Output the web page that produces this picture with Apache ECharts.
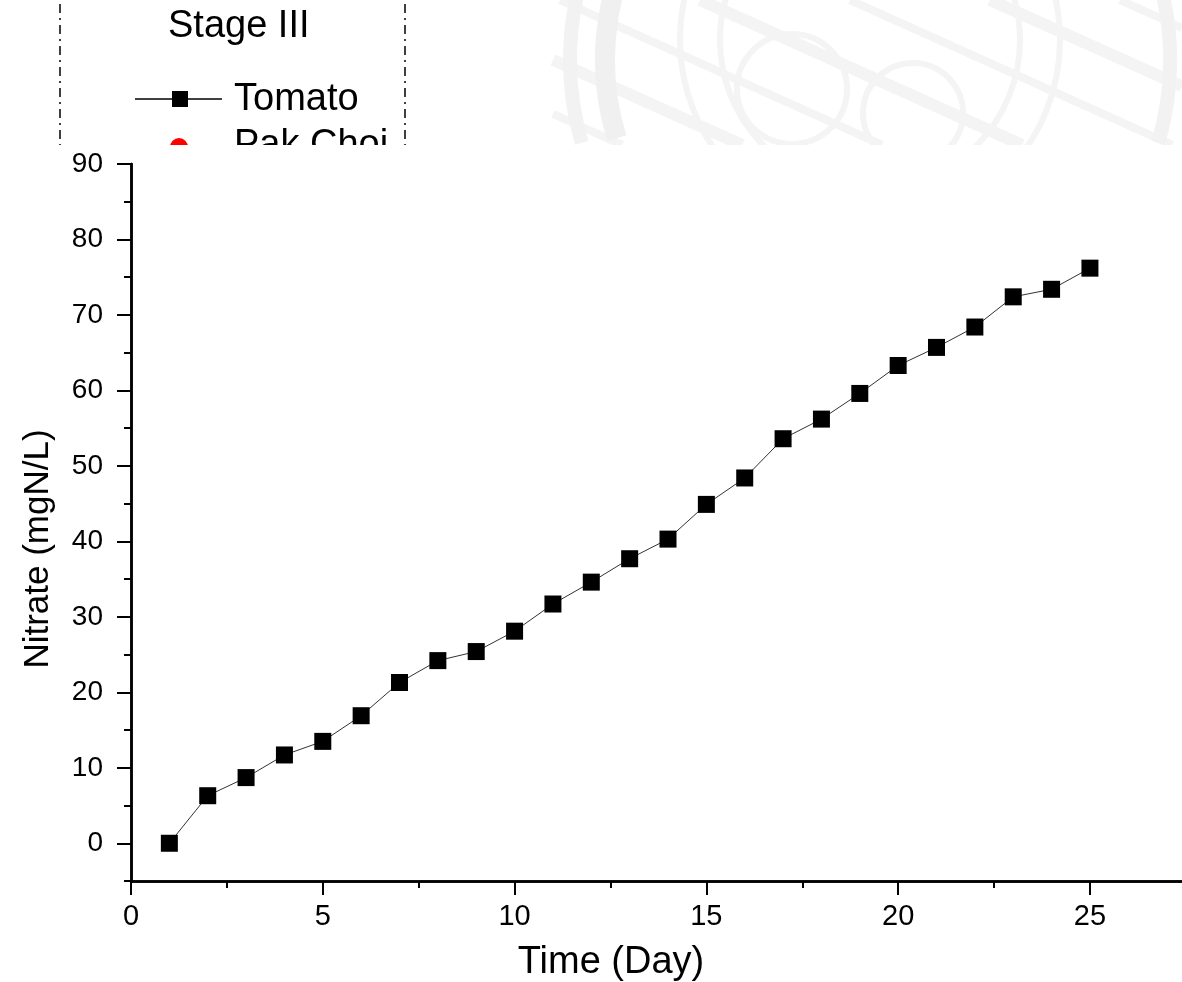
<!DOCTYPE html>
<html>
<head>
<meta charset="utf-8">
<script src="https://cdn.jsdelivr.net/npm/echarts@6/dist/echarts.min.js"></script>
<style>
  html, body { margin: 0; padding: 0; background: #fff; }
  #main { width: 1182px; height: 982px; }
</style>
</head>
<body>
<div id="main"></div>
<script>
// data
var days = [1, 2, 3, 4, 5, 6, 7, 8, 9, 10, 11, 12, 13, 14, 15, 16, 17, 18, 19, 20, 21, 22, 23, 24, 25];
var tomato = [0, 6.3, 8.7, 11.7, 13.5, 16.9, 21.3, 24.2, 25.4, 28.1, 31.7, 34.6, 37.7, 40.3, 44.9, 48.4, 53.6, 56.2, 59.6, 63.3, 65.7, 68.4, 72.4, 73.4, 76.2];
var xMajor = [0, 5, 10, 15, 20, 25];
var xMinor = [2.5, 7.5, 12.5, 17.5, 22.5];
var yMajor = [0, 10, 20, 30, 40, 50, 60, 70, 80, 90];
var yMinor = [-5, 5, 15, 25, 35, 45, 55, 65, 75, 85];

var FONT = '"Liberation Sans", Arial, sans-serif';

// clip a segment to a rectangle (for the faint background picture at the top right)
function clipSeg(x1, y1, x2, y2, r) {
  var dx = x2 - x1, dy = y2 - y1, t0 = 0, t1 = 1;
  var p = [-dx, dx, -dy, dy];
  var q = [x1 - r[0], r[2] - x1, y1 - r[1], r[3] - y1];
  for (var i = 0; i < 4; i++) {
    if (p[i] === 0) { if (q[i] < 0) return null; continue; }
    var t = q[i] / p[i];
    if (p[i] < 0) { if (t > t1) return null; if (t > t0) t0 = t; }
    else { if (t < t0) return null; if (t < t1) t1 = t; }
  }
  return { x1: x1 + t0 * dx, y1: y1 + t0 * dy, x2: x1 + t1 * dx, y2: y1 + t1 * dy };
}

var graphics = [];
var wmRect = [553, 0, 1182, 145];
var WM = '#f4f4f4';
[300, 420, 560, 700, 850, 990, 1120].forEach(function (x0, i) {
  var s = clipSeg(x0, 0, x0 + 900, 405, wmRect);
  if (s) graphics.push({ type: 'line', z: 1, shape: s, style: { stroke: WM, lineWidth: i % 2 ? 12 : 8 } });
});
[[870, 40, 190], [870, 40, 150], [792, 89, 55], [913, 113, 50]].forEach(function (c) {
  graphics.push({ type: 'circle', z: 1, shape: { cx: c[0], cy: c[1], r: c[2] }, style: { fill: 'none', stroke: WM, lineWidth: 6 } });
});
graphics.push({ type: 'arc', z: 1, shape: { cx: 870, cy: 60, r: 300, startAngle: Math.PI - 0.28, endAngle: 2 * Math.PI + 0.28, clockwise: true }, style: { fill: 'none', stroke: '#f2f2f2', lineWidth: 14 } });
graphics.push({ type: 'arc', z: 1, shape: { cx: 870, cy: 60, r: 265, startAngle: Math.PI - 0.3, endAngle: 1.2 * Math.PI, clockwise: true }, style: { fill: 'none', stroke: '#f0f0f0', lineWidth: 20 } });

// legend box (cut off at the top of the figure)
graphics.push(
  { type: 'line', z: 3, shape: { x1: 60, y1: 4, x2: 60, y2: 150 }, style: { stroke: '#000', lineWidth: 1.5, lineDash: [9, 5, 2, 5] } },
  { type: 'line', z: 3, shape: { x1: 405, y1: 4, x2: 405, y2: 150 }, style: { stroke: '#000', lineWidth: 1.5, lineDash: [9, 5, 2, 5] } },
  { type: 'text', z: 3, style: { text: 'Stage III', x: 168, y: 27, font: '38px ' + FONT, fill: '#000', verticalAlign: 'middle' } },
  { type: 'line', z: 3, shape: { x1: 135, y1: 99, x2: 222, y2: 99 }, style: { stroke: '#000', lineWidth: 1.5 } },
  { type: 'rect', z: 3, shape: { x: 172, y: 91, width: 16, height: 16 }, style: { fill: '#000' } },
  { type: 'text', z: 3, style: { text: 'Tomato', x: 234, y: 100, font: '38px ' + FONT, fill: '#000', verticalAlign: 'middle' } },
  { type: 'circle', z: 3, shape: { cx: 179, cy: 147, r: 9 }, style: { fill: '#ff0000' } },
  { type: 'text', z: 3, style: { text: 'Pak Choi', x: 234, y: 146, font: '38px ' + FONT, fill: '#000', verticalAlign: 'middle' } },
  // white strips that cut the top picture off
  { type: 'rect', z: 5, shape: { x: 0, y: 145, width: 553, height: 30 }, style: { fill: '#fff' } },
  { type: 'rect', z: 5, shape: { x: 553, y: 145, width: 629, height: 100 }, style: { fill: '#fff' } },
  // axis titles
  { type: 'text', z: 6, x: 38, y: 549, rotation: Math.PI / 2, style: { text: 'Nitrate (mgN/L)', font: '35px ' + FONT, fill: '#000', align: 'center', verticalAlign: 'middle' } },
  { type: 'text', z: 6, style: { text: 'Time (Day)', x: 611, y: 963, font: '38px ' + FONT, fill: '#000', align: 'center', verticalAlign: 'middle' } }
);

var axisLine = { show: true, onZero: false, lineStyle: { color: '#000', width: 2.5 } };

var option = {
  animation: false,
  backgroundColor: '#fff',
  grid: { left: 131, right: 0, top: 164, bottom: 101, containLabel: false },
  xAxis: [
    {
      type: 'value', min: 0, max: 27.4, position: 'bottom', z: 10,
      axisLine: axisLine,
      axisTick: { show: true, length: 7, customValues: xMinor, lineStyle: { color: '#000', width: 2 } },
      axisLabel: { show: false },
      splitLine: { show: false }
    },
    {
      type: 'value', min: 0, max: 27.4, position: 'bottom', z: 10,
      axisLine: axisLine,
      axisTick: { show: true, length: 14, customValues: xMajor, lineStyle: { color: '#000', width: 2 } },
      axisLabel: { show: true, customValues: xMajor, margin: 21, color: '#000', fontSize: 29, fontFamily: FONT },
      splitLine: { show: false }
    }
  ],
  yAxis: [
    {
      type: 'value', min: -5, max: 90, position: 'left', z: 10,
      axisLine: axisLine,
      axisTick: { show: true, length: 7, customValues: yMinor, lineStyle: { color: '#000', width: 2 } },
      axisLabel: { show: false },
      splitLine: { show: false }
    },
    {
      type: 'value', min: -5, max: 90, position: 'left', z: 10,
      axisLine: axisLine,
      axisTick: { show: true, length: 14, customValues: yMajor, lineStyle: { color: '#000', width: 2 } },
      axisLabel: { show: true, customValues: yMajor, margin: 28, color: '#000', fontSize: 28, fontFamily: FONT },
      splitLine: { show: false }
    }
  ],
  graphic: { elements: graphics },
  series: [
    {
      name: 'Tomato',
      type: 'line',
      z: 12,
      xAxisIndex: 0,
      yAxisIndex: 0,
      data: days.map(function (d, i) { return [d, tomato[i]]; }),
      symbol: 'rect',
      symbolSize: 17,
      itemStyle: { color: '#000' },
      lineStyle: { color: '#333', width: 1 }
    }
  ]
};

var myChart = echarts.init(document.getElementById('main'));
myChart.setOption(option);
</script>
</body>
</html>
